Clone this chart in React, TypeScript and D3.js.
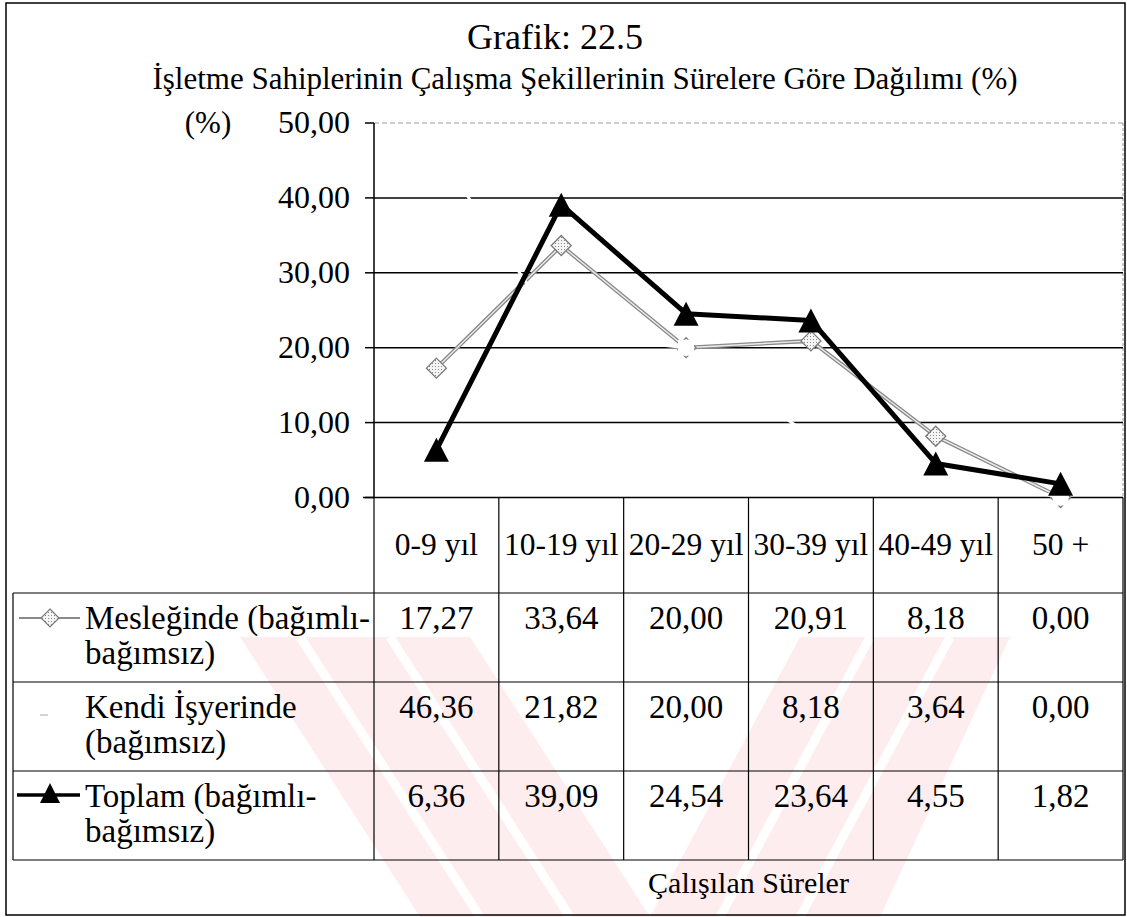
import React from "react";
import * as d3 from "d3";

const categories = ["0-9 yıl", "10-19 yıl", "20-29 yıl", "30-39 yıl", "40-49 yıl", "50 +"];
const meslegindeValues = [17.27, 33.64, 20.0, 20.91, 8.18, 0.0];
const kendiValues = [46.36, 21.82, 20.0, 8.18, 3.64, 0.0];
const toplamValues = [6.36, 39.09, 24.54, 23.64, 4.55, 1.82];
const yTicks = [0, 10, 20, 30, 40, 50];
const seriesLabels = [
  ["Mesleğinde (bağımlı-", "bağımsız)"],
  ["Kendi İşyerinde", "(bağımsız)"],
  ["Toplam (bağımlı-", "bağımsız)"],
];
const titleLine1 = "Grafik: 22.5";
const titleLine2 = "İşletme Sahiplerinin Çalışma Şekillerinin Sürelere Göre Dağılımı (%)";
const yAxisUnit = "(%)";
const xAxisTitle = "Çalışılan Süreler";

const W = 1127;
const H = 917;
const plotLeft = 374;
const plotRight = 1123;
const plotTop = 123;
const plotBottom = 497.5;
const tableLeft = 13;
const rowTops = [593, 682, 771];
const tableBottom = 860;
const FONT = "Liberation Serif";

const fmt = (v: number) => d3.format(".2f")(v).replace(".", ",");

export default function App() {
  const x = d3.scaleBand<string>().domain(categories).range([plotLeft, plotRight]);
  const cx = (c: string) => (x(c) as number) + x.bandwidth() / 2;
  const y = d3.scaleLinear().domain([0, 50]).range([plotBottom, plotTop]);

  const line = d3
    .line<number>()
    .x((_, i) => cx(categories[i]))
    .y((d) => y(d));

  const diamond = (px: number, py: number, r: number) =>
    `M${px},${py - r}L${px + r},${py}L${px},${py + r}L${px - r},${py}Z`;
  const tri = (px: number, py: number, w: number, h: number) =>
    `M${px},${py - h / 2}L${px + w / 2},${py + h / 2}L${px - w / 2},${py + h / 2}Z`;

  const allSeries = [meslegindeValues, kendiValues, toplamValues];

  return (
    <svg width={W} height={H} style={{ display: "block", position: "absolute", left: 0, top: 0 }}>
      <defs>
        <pattern id="dots" width="3" height="3" patternUnits="userSpaceOnUse">
          <rect width="3" height="3" fill="#f4f4f4" />
          <rect width="1" height="1" fill="#8a8a8a" />
        </pattern>
      </defs>
      <rect width={W} height={H} fill="#fff" />

      {/* watermark */}
      <g fill="#fdedef">
        <polygon points="240,637 470,637 650,917 420,917" />
        <polygon points="800,637 1010,637 880,917 650,917" />
      </g>
      <g stroke="#fff" strokeWidth={9}>
        <line x1={300} y1={637} x2={480} y2={917} />
        <line x1={390} y1={637} x2={570} y2={917} />
        <line x1={870} y1={637} x2={720} y2={917} />
        <line x1={950} y1={637} x2={800} y2={917} />
      </g>

      {/* outer frame */}
      <rect x={6} y={3} width={1119} height={912} fill="none" stroke="#000" strokeWidth={1.5} />

      {/* plot border (top/right) */}
      <line x1={plotLeft} x2={plotRight} y1={plotTop} y2={plotTop} stroke="#999" strokeDasharray="5,3" strokeWidth={1} />
      <line x1={plotRight} x2={plotRight} y1={plotTop} y2={plotBottom} stroke="#999" strokeDasharray="3,2" strokeWidth={1} />

      {/* gridlines */}
      {yTicks.filter((t) => t > 0 && t < 50).map((t) => (
        <line key={"g" + t} x1={plotLeft} x2={plotRight} y1={y(t)} y2={y(t)} stroke="#000" strokeWidth={1.5} />
      ))}

      {/* y axis */}
      <line x1={plotLeft} x2={plotLeft} y1={plotTop} y2={plotBottom} stroke="#000" strokeWidth={1.5} />
      {yTicks.map((t) => (
        <g key={"t" + t}>
          <line x1={plotLeft - 9} x2={plotLeft} y1={y(t)} y2={y(t)} stroke="#000" strokeWidth={1.5} />
          <text x={350} y={y(t) + 10} textAnchor="end" fontSize={32} fontFamily={FONT}>
            {fmt(t)}
          </text>
        </g>
      ))}
      <text x={208} y={y(50) + 10} textAnchor="middle" fontSize={31} fontFamily={FONT}>{yAxisUnit}</text>

      {/* x axis / table top */}
      <line x1={plotLeft - 11} x2={plotRight} y1={plotBottom} y2={plotBottom} stroke="#000" strokeWidth={1.5} />

      {/* table grid */}
      {categories.map((c) => (
        <line key={"v" + c} x1={x(c) as number} x2={x(c) as number} y1={plotBottom} y2={tableBottom} stroke="#000" strokeWidth={1.2} />
      ))}
      <line x1={plotRight} x2={plotRight} y1={plotBottom} y2={tableBottom} stroke="#000" strokeWidth={1.2} />
      <line x1={tableLeft} x2={tableLeft} y1={rowTops[0]} y2={tableBottom} stroke="#000" strokeWidth={1.2} />
      {[...rowTops, tableBottom].map((ry) => (
        <line key={"h" + ry} x1={tableLeft} x2={plotRight} y1={ry} y2={ry} stroke="#000" strokeWidth={1.2} />
      ))}

      {/* category headers */}
      {categories.map((c) => (
        <text key={"c" + c} x={cx(c)} y={555} textAnchor="middle" fontSize={31.5} fontFamily={FONT}>
          {c}
        </text>
      ))}

      {/* series lines */}
      <path d={line(meslegindeValues) || ""} fill="none" stroke="#8a8a8a" strokeWidth={4} />
      <path d={line(meslegindeValues) || ""} fill="none" stroke="#ececec" strokeWidth={1.4} />
      {meslegindeValues.map((v, i) => (
        <path key={"md" + i} d={diamond(cx(categories[i]), y(v), 10)} fill="url(#dots)" stroke="#7a7a7a" strokeWidth={1.3} />
      ))}
      <path d={line(kendiValues) || ""} fill="none" stroke="#fff" strokeWidth={3} />
      {kendiValues.map((v, i) => (
        <rect key={"kd" + i} x={cx(categories[i]) - 8} y={y(v) - 8} width={16} height={16} fill="#fff" />
      ))}
      <path d={line(toplamValues) || ""} fill="none" stroke="#000" strokeWidth={5} strokeLinejoin="round" />
      {toplamValues.map((v, i) => (
        <path key={"td" + i} d={tri(cx(categories[i]), y(v), 25, 24)} fill="#000" />
      ))}

      {/* table rows */}
      {seriesLabels.map((lab, r) => (
        <g key={"r" + r}>
          <text x={85} y={rowTops[r] + 36} fontSize={33} fontFamily={FONT}>{lab[0]}</text>
          <text x={85} y={rowTops[r] + 71} fontSize={33} fontFamily={FONT}>{lab[1]}</text>
          {allSeries[r].map((v, i) => (
            <text key={"val" + i} x={cx(categories[i])} y={rowTops[r] + 36} textAnchor="middle" fontSize={33} fontFamily={FONT}>
              {fmt(v)}
            </text>
          ))}
        </g>
      ))}

      {/* legend keys */}
      <line x1={19} x2={80} y1={rowTops[0] + 25} y2={rowTops[0] + 25} stroke="#8a8a8a" strokeWidth={2} />
      <path d={diamond(50, rowTops[0] + 25, 9)} fill="url(#dots)" stroke="#7a7a7a" strokeWidth={1.2} />
      <line x1={40} x2={48} y1={rowTops[1] + 33} y2={rowTops[1] + 33} stroke="#aaa" strokeWidth={1} />
      <line x1={17} x2={80} y1={rowTops[2] + 24} y2={rowTops[2] + 24} stroke="#000" strokeWidth={3.5} />
      <path d={tri(50, rowTops[2] + 22, 20, 20)} fill="#000" />

      {/* titles */}
      <text x={555} y={49} textAnchor="middle" fontSize={36} fontFamily={FONT}>{titleLine1}</text>
      <text x={585} y={89} textAnchor="middle" fontSize={31} fontFamily={FONT}>{titleLine2}</text>
      <text x={(plotLeft + plotRight) / 2} y={893} textAnchor="middle" fontSize={30} fontFamily={FONT}>{xAxisTitle}</text>
    </svg>
  );
}
